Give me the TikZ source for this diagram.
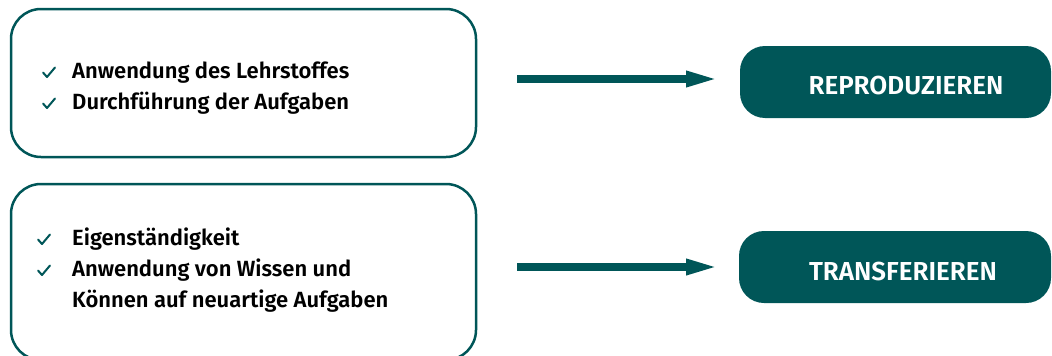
\documentclass[tikz,border=0pt]{standalone}
\usepackage{fontspec}
\setmainfont{Fira Sans}[BoldFont={Fira Sans SemiBold}]
\usetikzlibrary{arrows.meta}
\definecolor{teal}{RGB}{0,86,88}
\tikzset{
  frame/.style={draw=teal, line width=2.5pt, rounded corners=30pt},
  pill/.style={fill=teal, rounded corners=25pt},
  item/.style={anchor=base west, inner sep=0pt, font=\fontsize{22}{26}\selectfont\bfseries, text=black},
  label/.style={anchor=base, inner sep=0pt, font=\fontsize{26}{30}\selectfont\bfseries, text=white},
  flow/.style={draw=teal, line width=8pt, -{Triangle[length=35pt, width=14pt]}},
  tick/.pic={\draw[teal, line width=2pt, line cap=round, line join=round]
    (-5.5,-5.5) -- (-1.5,-1) -- (6.5,-10.5);}
}
\begin{document}
\begin{tikzpicture}[x=1pt, y=-1pt]
  \useasboundingbox (0,0) rectangle (1052,356);

  % left frames
  \draw[frame] (11,9) rectangle (476,157);
  \draw[frame] (11,184) rectangle (476,360);

  % items of the first frame
  \pic at (48.5,78) {tick};
  \node[item] (l1a) at (72,78) {Anwendung des Lehrstoffes};
  \pic at (48.5,109) {tick};
  \node[item] (l1b) at (72,109) {Durchführung der Aufgaben};

  % items of the second frame
  \pic at (43.5,245) {tick};
  \node[item] (l2a) at (72,245) {Eigenständigkeit};
  \pic at (43.5,276) {tick};
  \node[item] (l2b) at (72,276) {Anwendung von Wissen und};
  \node[item] (l2c) at (72,307) {Können auf neuartige Aufgaben};

  % result pills
  \fill[pill] (740,46) rectangle (1051,118);
  \node[label] (rep) at (906,94) {REPRODUZIEREN};
  \fill[pill] (739,231) rectangle (1051,303);
  \node[label] (tra) at (903,280) {TRANSFERIEREN};

  % arrows
  \coordinate (a1s) at (517,79);
  \coordinate (a1e) at (721,79);
  \coordinate (a2s) at (517,267);
  \coordinate (a2e) at (721,267);
  \draw[flow] (a1s) -- (a1e);
  \draw[flow] (a2s) -- (a2e);
\end{tikzpicture}
\end{document}
